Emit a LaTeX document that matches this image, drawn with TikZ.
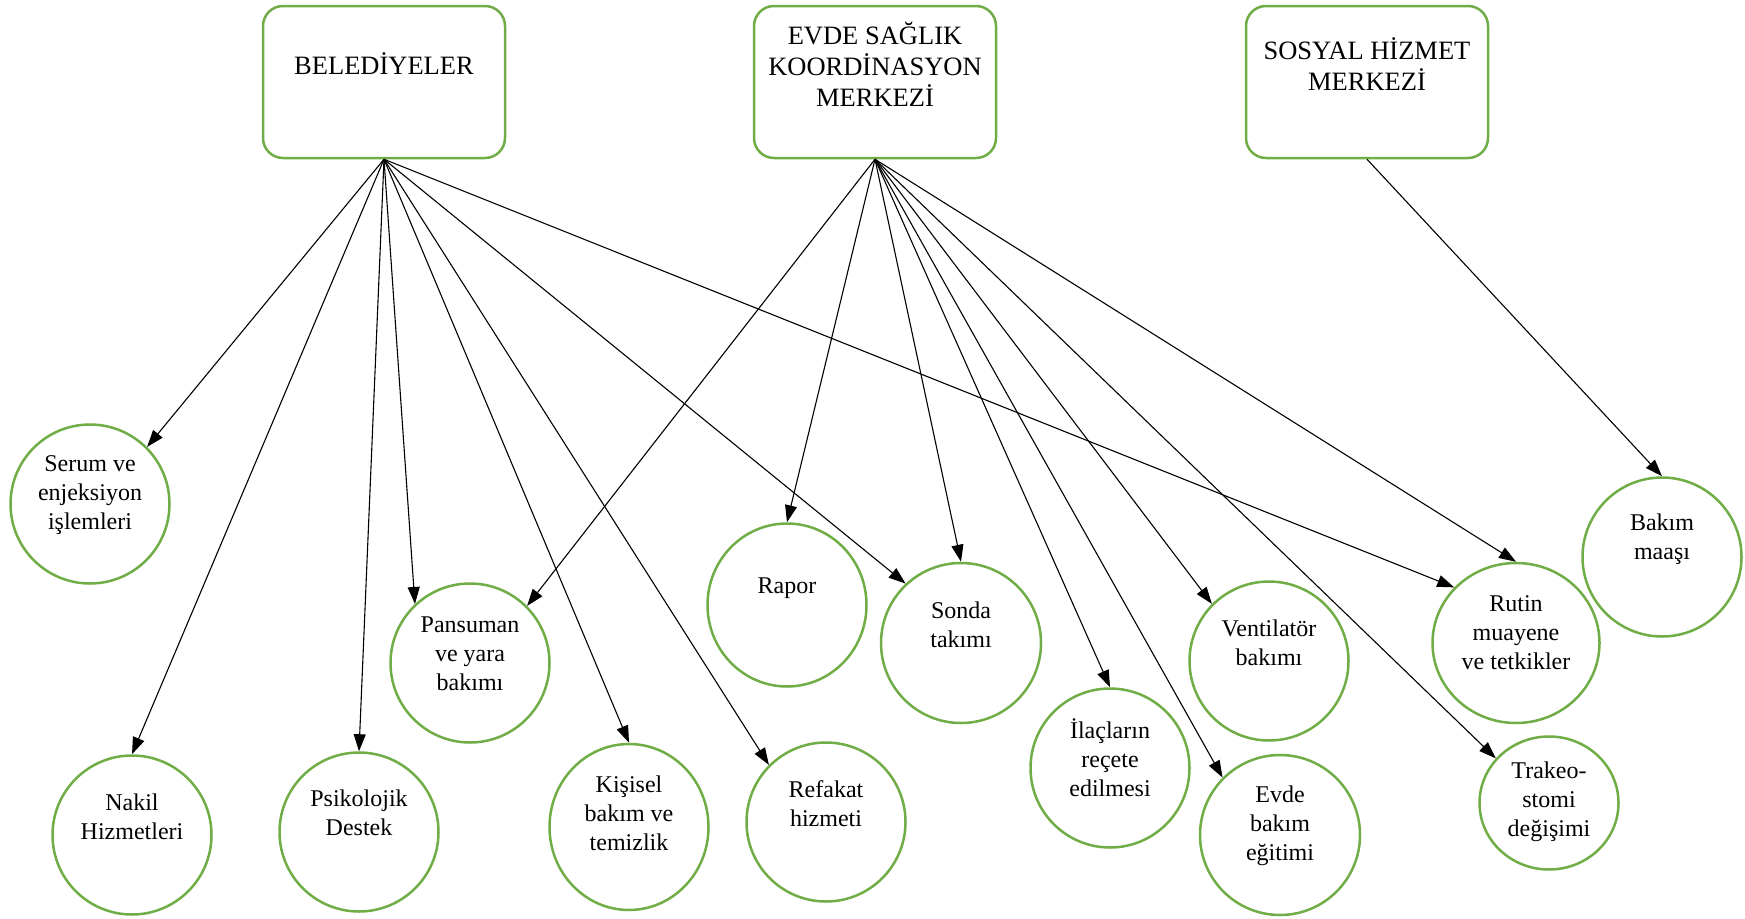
\documentclass[tikz,border=0pt]{standalone}
\usepackage{fontspec}
\setmainfont{Liberation Serif}
\usetikzlibrary{arrows.meta,shapes.geometric}
\definecolor{ogreen}{HTML}{70AD47}
\tikzset{
  hdr/.style={draw=ogreen, line width=2.5pt, rounded corners=20pt, fill=white,
    minimum width=242pt, minimum height=152pt, inner sep=0pt},
  hdrtxt/.style={align=center, inner sep=0pt, font=\fontsize{26.5}{31}\selectfont},
  circ/.style={draw=ogreen, line width=2.5pt, ellipse, fill=white, inner sep=0pt,
    minimum width=159pt, minimum height=159pt},
  ctxt/.style={align=center, inner sep=0pt, font=\fontsize{24}{29}\selectfont},
  conn/.style={line width=1.1pt, -{Triangle[length=17pt,width=12pt]}},
}
\begin{document}
\begin{tikzpicture}[x=1pt,y=-1pt]
\useasboundingbox (0,0) rectangle (1745,918);
% header boxes
\node[hdr] (bel) at (384,82) {};
\node[hdr] (evde) at (875,82) {};
\node[hdr] (sos) at (1367,82) {};
\node[hdrtxt] (belt) at (384,64) {BELEDİYELER};
\node[hdrtxt] (evdet) at (875,64) {EVDE SAĞLIK\\KOORDİNASYON\\MERKEZİ};
\node[hdrtxt] (sost) at (1367,64) {SOSYAL HİZMET\\MERKEZİ};
% circles
\node[circ] (serum) at (90,504) {};
\node[circ] (nakil) at (132,835) {};
\node[circ] (psik) at (359,832) {};
\node[circ] (pans) at (470,663) {};
\node[circ, minimum height=166pt] (kis) at (629,827) {};
\node[circ] (ref) at (826,822) {};
\node[circ, minimum height=163pt] (rapor) at (787,605) {};
\node[circ, minimum width=160pt, minimum height=160pt] (sonda) at (961,643) {};
\node[circ] (ilac) at (1110,768) {};
\node[circ] (vent) at (1269,661) {};
\node[circ, minimum width=160pt, minimum height=160pt] (egit) at (1280,835) {};
\node[circ, minimum width=167pt, minimum height=160pt] (rutin) at (1516,643) {};
\node[circ, minimum width=139pt, minimum height=133pt] (trak) at (1549,803) {};
\node[circ] (maas) at (1662,557) {};
% circle texts
\node[ctxt] (serumt) at (90,495) {Serum ve\\enjeksiyon\\işlemleri};
\node[ctxt] (nakilt) at (132,817) {Nakil\\Hizmetleri};
\node[ctxt] (psikt) at (359,813) {Psikolojik\\Destek};
\node[ctxt] (panst) at (470,654) {Pansuman\\ve yara\\bakımı};
\node[ctxt] (kist) at (629,813) {Kişisel\\bakım ve\\temizlik};
\node[ctxt] (reft) at (826,804) {Refakat\\hizmeti};
\node[ctxt] (raport) at (787,588) {Rapor};
\node[ctxt] (sondat) at (961,625) {Sonda\\takımı};
\node[ctxt] (ilact) at (1110,758) {İlaçların\\reçete\\edilmesi};
\node[ctxt] (ventt) at (1269,643) {Ventilatör\\bakımı};
\node[ctxt] (egitt) at (1280,826) {Evde\\bakım\\eğitimi};
\node[ctxt] (rutint) at (1516,633) {Rutin\\muayene\\ve tetkikler};
\node[ctxt] (trakt) at (1549,802) {Trakeo-\\stomi\\değişimi};
\node[ctxt] (maast) at (1662,539) {Bakım\\maaşı};
% connectors from BELEDİYELER
\draw[conn] (bel.south) -- (serum.45);
\draw[conn] (bel.south) -- (nakil.north);
\draw[conn] (bel.south) -- (psik.north);
\draw[conn] (bel.south) -- (pans.133);
\draw[conn] (bel.south) -- (kis.north);
\draw[conn] (bel.south) -- (ref.135);
\draw[conn] (bel.south) -- (sonda.133);
\draw[conn] (bel.south) -- (rutin.138);
% connectors from EVDE
\draw[conn] (evde.south) -- (pans.45);
\draw[conn] (evde.south) -- (rapor.north);
\draw[conn] (evde.south) -- (sonda.north);
\draw[conn] (evde.south) -- (ilac.north);
\draw[conn] (evde.south) -- (egit.135);
\draw[conn] (evde.south) -- (vent.135);
\draw[conn] (evde.south) -- (trak.140);
\draw[conn] (evde.south) -- (rutin.north);
% connector from SOSYAL
\draw[conn] (sos.south) -- (maas.north);
\end{tikzpicture}
\end{document}
